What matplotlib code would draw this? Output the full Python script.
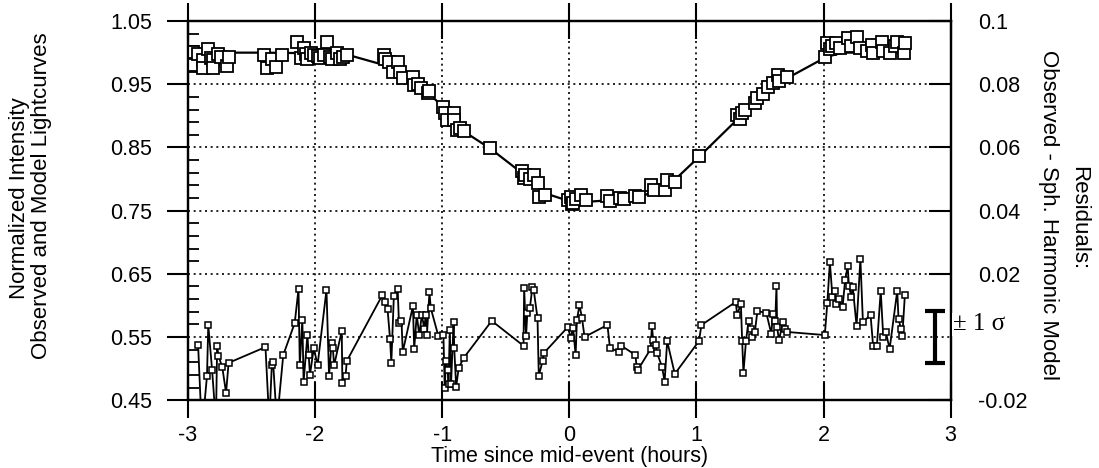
import matplotlib
matplotlib.use("Agg")
import matplotlib.pyplot as plt
from matplotlib.ticker import FixedLocator, FixedFormatter

plt.rcParams['font.family'] = ['Liberation Sans', 'DejaVu Sans']
plt.rcParams['axes.unicode_minus'] = False

# observed lightcurve (hours since mid-event, normalized intensity)
t_obs = [-2.96, -2.96, -2.92, -2.88, -2.88, -2.84, -2.82, -2.80, -2.80, -2.76, -2.74, -2.69, -2.68,
         -2.40, -2.38, -2.34, -2.31, -2.26,
         -2.14, -2.11, -2.09, -2.07, -2.06, -2.03, -2.01, -1.98, -1.96, -1.93, -1.905, -1.88, -1.87,
         -1.83, -1.80, -1.78, -1.75,
         -1.46, -1.45, -1.42, -1.39, -1.35, -1.33, -1.31, -1.23, -1.22, -1.19, -1.17, -1.11, -1.10,
         -0.99, -0.98, -0.96, -0.91, -0.91, -0.88, -0.86, -0.83,
         -0.62,
         -0.37, -0.36, -0.35, -0.31, -0.28, -0.25, -0.24, -0.19,
         -0.01, 0.01, 0.02, 0.03, 0.05, 0.09, 0.13,
         0.30, 0.32, 0.40, 0.43, 0.52, 0.55, 0.64, 0.67, 0.75, 0.77, 0.83,
         1.02,
         1.32, 1.34, 1.36, 1.38, 1.46, 1.48, 1.52, 1.56, 1.60, 1.64, 1.65, 1.71,
         2.01, 2.03, 2.05, 2.07, 2.10, 2.13, 2.19, 2.22, 2.26, 2.29, 2.34, 2.38, 2.39, 2.46, 2.47,
         2.52, 2.56, 2.58, 2.63, 2.64]
i_obs = [1.001, 0.980, 0.998, 0.988, 0.976, 1.006, 0.992, 0.988, 0.976, 0.998, 0.993, 0.979, 0.993,
         0.996, 0.976, 0.990, 0.977, 0.996,
         1.017, 0.991, 1.007, 0.998, 0.990, 1.000, 0.996, 0.994, 0.991, 0.997, 1.017, 0.993, 0.990,
         1.000, 0.990, 0.993, 0.996,
         0.996, 0.990, 0.985, 0.969, 0.985, 0.969, 0.960, 0.961, 0.949, 0.951, 0.944, 0.936, 0.940,
         0.914, 0.904, 0.893, 0.904, 0.893, 0.877, 0.880, 0.876,
         0.849,
         0.812, 0.802, 0.807, 0.800, 0.806, 0.794, 0.771, 0.775,
         0.766, 0.771, 0.760, 0.762, 0.769, 0.775, 0.767,
         0.773, 0.765, 0.770, 0.769, 0.773, 0.771, 0.790, 0.783, 0.783, 0.798, 0.795,
         0.836,
         0.901, 0.895, 0.905, 0.909, 0.920, 0.928, 0.935, 0.946, 0.952, 0.965, 0.955, 0.961,
         0.993, 1.015, 1.005, 1.010, 1.015, 1.008, 1.023, 1.010, 1.025, 1.007, 1.003, 1.012, 0.999,
         1.017, 1.003, 0.999, 1.010, 1.017, 1.000, 1.015]

# spherical harmonic model lightcurve
t_mod = [-2.96, -2.4, -2.0, -1.75, -1.45, -1.3, -1.1, -0.95, -0.85, -0.62, -0.35, -0.2, 0.0,
         0.15, 0.35, 0.6, 0.8, 1.02, 1.3, 1.55, 1.7, 2.02, 2.15, 2.64]
i_mod = [1.0, 1.0, 0.999, 0.997, 0.98, 0.965, 0.935, 0.905, 0.878, 0.848, 0.806, 0.778, 0.765,
         0.764, 0.767, 0.775, 0.793, 0.835, 0.89, 0.935, 0.958, 0.993, 1.0, 1.0]

# residuals: observed - model
t_res = [-2.92, -2.89, -2.85, -2.84, -2.81, -2.78, -2.77, -2.76, -2.73, -2.70, -2.68,
         -2.39, -2.36, -2.34, -2.33, -2.30, -2.25, -2.16, -2.13, -2.12, -2.10, -2.09, -2.06, -2.05,
         -2.04, -2.01, -1.98, -1.91, -1.89, -1.87, -1.86, -1.85, -1.79, -1.785, -1.76, -1.75,
         -1.47, -1.45, -1.43, -1.41, -1.40, -1.38, -1.35, -1.34, -1.32, -1.31, -1.23, -1.22, -1.20,
         -1.18, -1.16, -1.14, -1.13, -1.12, -1.10, -1.09, -1.03,
         -0.99, -0.98, -0.97, -0.955, -0.95, -0.94, -0.93, -0.91, -0.905, -0.89, -0.87, -0.83,
         -0.61, -0.36, -0.355, -0.34, -0.33, -0.31, -0.29, -0.28, -0.25, -0.24, -0.21, -0.20,
         -0.01, 0.01, 0.03, 0.05, 0.06, 0.08, 0.10, 0.12,
         0.30, 0.32, 0.39, 0.41, 0.52, 0.53, 0.54, 0.64, 0.65, 0.66, 0.68, 0.69, 0.73, 0.75, 0.77,
         0.83, 1.02, 1.04,
         1.31, 1.32, 1.35, 1.36, 1.37, 1.39, 1.41, 1.43, 1.44, 1.46, 1.48, 1.55, 1.59, 1.60, 1.62,
         1.63, 1.635, 1.65, 1.68, 1.70, 1.71,
         2.01, 2.03, 2.05, 2.07, 2.09, 2.10, 2.12, 2.15, 2.17, 2.19, 2.20, 2.22, 2.23, 2.26, 2.29,
         2.31, 2.37, 2.39, 2.42, 2.45, 2.47, 2.49, 2.52, 2.58, 2.59, 2.61, 2.62, 2.64]
r_res = [-0.0025, -0.030, -0.0123, 0.0038, -0.0104, -0.027, -0.0028, -0.0060, -0.0095, -0.0177, -0.0082,
         -0.0032, -0.027, -0.0089, -0.0080, -0.027, -0.0057, 0.0044, 0.0152, -0.0090, 0.0054, -0.0142,
         0.0006, -0.0057, -0.0120, -0.0035, -0.0089, 0.0149, -0.0123, -0.0020, -0.0035, -0.0090,
         0.0019, -0.0145, -0.0123, -0.0076,
         0.0133, 0.0111, 0.0089, -0.0006, -0.0082, 0.0130, 0.0152, 0.0044, 0.0051, -0.0047, 0.0098,
         -0.0038, 0.0070, 0.0006, 0.0070, 0.0025, 0.0070, 0.0006, 0.0142, 0.0092, 0.0003,
         0.0006, -0.0161, -0.0076, -0.0104, -0.0150, 0.0022, -0.0148, 0.0047, -0.0035, -0.0158,
         -0.0098, -0.0066,
         0.0051, -0.0028, 0.0155, 0.0003, 0.0076, 0.0092, 0.0158, 0.0149, 0.0060, -0.0123, -0.0076,
         -0.0051,
         0.0032, -0.0003, 0.0028, -0.0057, 0.0054, 0.0101, 0.0060, 0.0,
         0.0038, -0.0035, -0.0047, -0.0028, -0.0057, -0.0095, -0.0104, -0.0038, 0.0035, -0.0010,
         -0.0025, -0.0050, -0.0095, -0.0142, -0.0013, -0.0117, -0.0013, 0.0038,
         0.0111, 0.0070, 0.0104, -0.0013, -0.0114, -0.0013, 0.0051, 0.0025, 0.0, 0.0016, 0.0082,
         0.0076, 0.0009, 0.0073, 0.0050, 0.0161, 0.0030, -0.0010, 0.0047, 0.0025, 0.0016,
         0.0006, 0.0108, 0.0237, 0.0127, 0.0146, 0.0105, 0.0120, 0.0095, 0.0180, 0.0225, 0.0161,
         0.0127, 0.0158, 0.0035, 0.0247, 0.0047, 0.0070, -0.0028, -0.0028, 0.0146, 0.0, 0.0016,
         -0.0038, 0.0146, 0.0057, 0.0025, 0.0003, 0.0133]

sigma = 0.0082

x_ticks = [-3, -2, -1, 0, 1, 2, 3]
x_labels = ['-3', '-2', '-1', '0', '1', '2', '3']
yl_ticks = [0.45, 0.55, 0.65, 0.75, 0.85, 0.95, 1.05]
yl_labels = ['0.45', '0.55', '0.65', '0.75', '0.85', '0.95', '1.05']
yr_ticks = [-0.02, 0.02, 0.04, 0.06, 0.08, 0.1]
yr_labels = ['-0.02', '0.02', '0.04', '0.06', '0.08', '0.1']

fig = plt.figure(figsize=(10.99, 4.68), dpi=100)
ax = fig.add_axes([0.171, 0.145, 0.694, 0.81])
ax2 = ax.twinx()

ax.set_xlim(-3, 3)
ax.set_ylim(0.45, 1.05)
ax2.set_ylim(-0.02, 0.1)

ax.plot(t_mod, i_mod, color='k', lw=1.6, zorder=3)
ax.plot(t_obs, i_obs, ls='none', marker='s', ms=9, mfc='white', mec='k', mew=1.3, zorder=4)

ax2.plot(t_res, r_res, color='k', lw=1.3, marker='s', ms=4.5, mfc='white', mec='k', mew=1.1)
ax2.errorbar([2.88], [0], yerr=[sigma], color='k', elinewidth=3, capsize=7, capthick=3)
ax2.text(3.02, 0.004, '± 1 σ', ha='left', va='center', fontsize=18,
         family=['Liberation Serif', 'DejaVu Serif'],
         bbox=dict(fc='white', ec='none', pad=0.5), clip_on=False, zorder=10)

ax.xaxis.set_major_locator(FixedLocator(x_ticks))
ax.xaxis.set_major_formatter(FixedFormatter(x_labels))
ax.yaxis.set_major_locator(FixedLocator(yl_ticks))
ax.yaxis.set_major_formatter(FixedFormatter(yl_labels))
ax.yaxis.set_minor_locator(FixedLocator([0.45 + 0.02 * k for k in range(31)]))
ax2.yaxis.set_major_locator(FixedLocator(yr_ticks))
ax2.yaxis.set_major_formatter(FixedFormatter(yr_labels))

ax.grid(True, which='major', color='k', lw=1.2, ls=(0, (1.2, 2.2)))
ax.set_axisbelow(True)

ax.tick_params(axis='x', which='major', direction='inout', length=26, width=1.5,
               top=True, bottom=True, pad=5, labelsize=15.5)
ax.tick_params(axis='y', which='major', direction='out', length=15, width=1.5,
               right=False, pad=11, labelsize=15.5)
ax.tick_params(axis='y', which='minor', direction='in', length=8, width=1.3, right=False)
ax2.tick_params(axis='y', which='major', direction='in', length=16, width=1.5,
                pad=20, labelsize=15.5)

for a in (ax, ax2):
    for s in a.spines.values():
        s.set_linewidth(1.6)

ax.set_xlabel('Time since mid-event (hours)', fontsize=15.5, labelpad=0)
fig.text(20 / 1099, 1 - 198 / 468, 'Normalized Intensity', rotation=90,
         ha='center', va='center', fontsize=16)
fig.text(42 / 1099, 1 - 196 / 468, 'Observed and Model Lightcurves', rotation=90,
         ha='center', va='center', fontsize=16)
fig.text(1079 / 1099, 1 - 218 / 468, 'Residuals:', rotation=270,
         ha='center', va='center', fontsize=16)
fig.text(1048 / 1099, 1 - 215 / 468, 'Observed - Sph. Harmonic Model', rotation=270,
         ha='center', va='center', fontsize=16)

fig.savefig('out.png', dpi=100)
